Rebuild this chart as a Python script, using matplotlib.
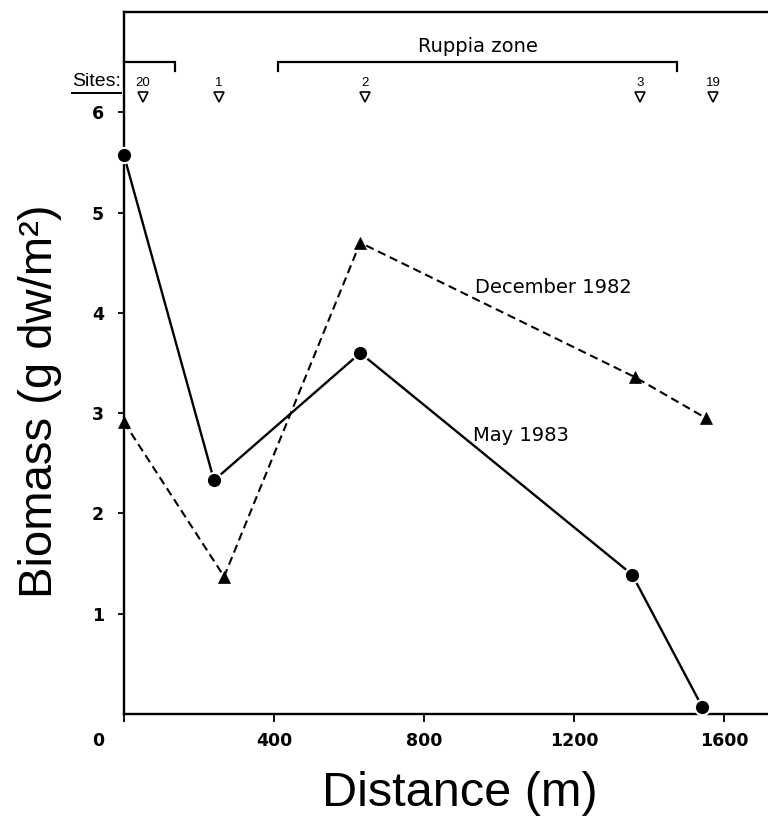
import matplotlib
matplotlib.use('Agg')
import matplotlib.pyplot as plt
import matplotlib.transforms as mtrans
from matplotlib.lines import Line2D

# ---------------- data ----------------
may_dist = [0, 240, 630, 1355, 1542]
may_biomass = [5.57, 2.33, 3.60, 1.39, 0.07]
dec_dist = [0, 267, 630, 1362, 1552]
dec_biomass = [2.91, 1.37, 4.70, 3.36, 2.95]
site_labels = ['20', '1', '2', '3', '19']
site_dist = [50, 252, 643, 1376, 1571]
first_bracket = (0, 135)
ruppia_zone = (411, 1474)
x_ticks = [0, 400, 800, 1200, 1600]
y_ticks = [1, 2, 3, 4, 5, 6]

# ---------------- figure ----------------
W, H = 768, 819
fig = plt.figure(figsize=(W / 100, H / 100), dpi=100)
ax_left, ax_bottom, ax_top = 124, 714, 12
ax = fig.add_axes([ax_left / W, 1 - ax_bottom / H, 1 - ax_left / W, (ax_bottom - ax_top) / H])
ax.set_xlim(0, (W - ax_left) / 0.375)
ax.set_ylim(0, 7.0)

LABEL_FONT = 'Liberation Sans'
TICK_FONT = 'DejaVu Sans'

# series
ax.plot(may_dist, may_biomass, color='black', lw=1.7, marker='o', ms=11,
        mfc='black', mec='white', mew=1.5, clip_on=False, zorder=4)
ax.plot(dec_dist, dec_biomass, color='black', lw=1.5, ls=(0, (4, 2.3)),
        marker='^', ms=8, mfc='black', mec='black', mew=0.5, clip_on=False, zorder=3)

# series labels
ax.text(936, 4.25, 'December 1982', family=TICK_FONT, fontsize=14, ha='left', va='center')
ax.text(931, 2.78, 'May 1983', family=TICK_FONT, fontsize=14, ha='left', va='center')

# spines / ticks
for s in ['left', 'bottom', 'top']:
    ax.spines[s].set_linewidth(1.7)
ax.spines['right'].set_visible(False)
ax.set_xticks(x_ticks)
ax.set_xticklabels([str(v) for v in x_ticks], family=TICK_FONT, fontsize=12.5, fontweight='bold')
ax.set_yticks(y_ticks)
ax.set_yticklabels([str(v) for v in y_ticks], family=TICK_FONT, fontsize=12.5, fontweight='bold')
ax.tick_params(axis='x', direction='out', length=6, width=1.3, pad=7)
ax.tick_params(axis='y', direction='out', length=4.5, width=1.3, pad=10)
ax.tick_params(top=False, right=False)
lbl0 = ax.get_xticklabels()[0]
lbl0.set_transform(lbl0.get_transform() + mtrans.ScaledTranslation(-0.26, 0, fig.dpi_scale_trans))

# axis labels
ax.set_xlabel('Distance (m)', family=LABEL_FONT, fontsize=35)
ax.xaxis.label.set_va('center')
ax.xaxis.set_label_coords((460 - ax_left) / (W - ax_left), (ax_bottom - 793) / (ax_bottom - ax_top))
ax.set_ylabel('Biomass (g dw/m²)', family=LABEL_FONT, fontsize=34)
ax.yaxis.label.set_va('center')
ax.yaxis.set_label_coords((40 - ax_left) / (W - ax_left), (ax_bottom - 401) / (ax_bottom - ax_top))

# top annotations: brackets, sites
tx = ax.get_xaxis_transform()
def ay(py):
    return (ax_bottom - py) / (ax_bottom - ax_top)

yb, yb2 = ay(62), ay(71)
ax.plot([first_bracket[0], first_bracket[1], first_bracket[1]], [yb, yb, yb2],
        transform=tx, color='black', lw=1.6, clip_on=False, solid_joinstyle='miter')
ax.plot([ruppia_zone[0], ruppia_zone[0], ruppia_zone[1], ruppia_zone[1]], [yb2, yb, yb, yb2],
        transform=tx, color='black', lw=1.6, clip_on=False, solid_joinstyle='miter')
ax.text(sum(ruppia_zone) / 2, ay(46), 'Ruppia zone', transform=tx, family=TICK_FONT,
        fontsize=14, ha='center', va='center')

ax.plot(site_dist, [ay(97)] * len(site_dist), transform=tx, ls='none', marker='v', ms=7.5,
        mfc='white', mec='black', mew=1.2, clip_on=False)
for d, lab in zip(site_dist, site_labels):
    ax.text(d, ay(83), lab, transform=tx, family=LABEL_FONT, fontsize=9.5,
            ha='center', va='center')

sites_txt = ax.text(-0.005, ay(82), 'Sites:', transform=ax.transAxes, family=LABEL_FONT,
                    fontsize=14, ha='right', va='center')
fig.canvas.draw()
bb = sites_txt.get_window_extent()
uy = bb.y0 - 2
fig.add_artist(Line2D([bb.x0, bb.x1], [uy, uy], transform=None, color='black', lw=1.4))

fig.savefig('out.png', dpi=100)
